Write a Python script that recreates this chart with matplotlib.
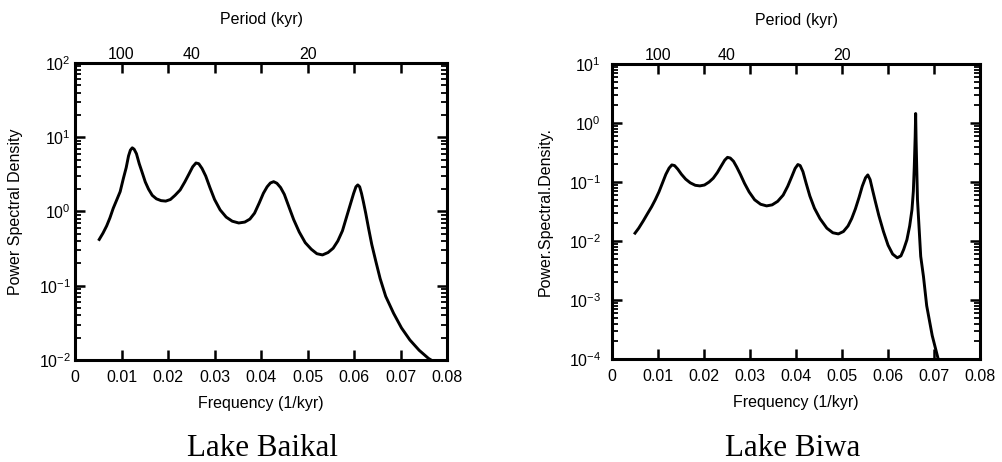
import numpy as np
import matplotlib.pyplot as plt

# === data ===
baikal_freq = [0.0052, 0.0060, 0.0068, 0.0075, 0.0082, 0.0090, 0.0097, 0.0104, 0.0110, 0.0115,
               0.0119, 0.0123, 0.0127, 0.0132, 0.0138, 0.0144, 0.0151, 0.0158, 0.0166, 0.0175,
               0.0185, 0.0195, 0.0205, 0.0215, 0.0226, 0.0236, 0.0245, 0.0253, 0.0260, 0.0266,
               0.0273, 0.0281, 0.0290, 0.0300, 0.0312, 0.0325, 0.0338, 0.0352, 0.0365, 0.0376,
               0.0386, 0.0396, 0.0405, 0.0413, 0.0420, 0.0427, 0.0434, 0.0442, 0.0450, 0.0460,
               0.0470, 0.0482, 0.0495, 0.0508, 0.0520, 0.0532, 0.0544, 0.0555, 0.0565, 0.0575,
               0.0584, 0.0592, 0.0599, 0.0604, 0.0608, 0.0612, 0.0616, 0.0620, 0.0625, 0.0631,
               0.0638, 0.0647, 0.0656, 0.0668, 0.0685, 0.0702, 0.0720, 0.0740, 0.0760, 0.0775]
baikal_psd = [0.42, 0.51, 0.64, 0.82, 1.10, 1.45, 1.85, 2.8, 3.9, 5.6,
              6.7, 7.2, 6.9, 6.0, 4.4, 3.4, 2.5, 2.0, 1.65, 1.48,
              1.40, 1.38, 1.45, 1.65, 1.95, 2.5, 3.2, 4.0, 4.5, 4.4,
              3.8, 3.0, 2.1, 1.45, 1.05, 0.84, 0.74, 0.70, 0.72, 0.79,
              0.95, 1.3, 1.76, 2.15, 2.42, 2.52, 2.4, 2.1, 1.7, 1.15,
              0.78, 0.53, 0.38, 0.31, 0.27, 0.26, 0.28, 0.32, 0.40, 0.55,
              0.85, 1.25, 1.75, 2.15, 2.28, 2.15, 1.75, 1.35, 0.95, 0.6,
              0.36, 0.21, 0.125, 0.072, 0.0425, 0.027, 0.0186, 0.0135, 0.0105, 0.0092]

biwa_freq = [0.0050, 0.0058, 0.0068, 0.0077, 0.0086, 0.0094, 0.0102, 0.0110, 0.0117, 0.0124,
             0.0130, 0.0136, 0.0143, 0.0151, 0.0160, 0.0170, 0.0181, 0.0191, 0.0201, 0.0211,
             0.0220, 0.0229, 0.0237, 0.0245, 0.0251, 0.0257, 0.0264, 0.0271, 0.0279, 0.0288,
             0.0298, 0.0310, 0.0323, 0.0336, 0.0348, 0.0360, 0.0372, 0.0382, 0.0391, 0.0398,
             0.0404, 0.0409, 0.0415, 0.0422, 0.0430, 0.0440, 0.0452, 0.0467, 0.0480, 0.0492,
             0.0503, 0.0513, 0.0521, 0.0529, 0.0537, 0.0544, 0.0551, 0.0556, 0.0561, 0.0566,
             0.0572, 0.0580, 0.0590, 0.0600, 0.0610, 0.0620, 0.0628, 0.0634, 0.0641, 0.0647,
             0.0652, 0.0655, 0.0657, 0.0659, 0.0660, 0.0661, 0.0664, 0.0671, 0.0677, 0.0684,
             0.0696, 0.0709, 0.0713]
biwa_psd = [0.0136, 0.0165, 0.022, 0.029, 0.038, 0.050, 0.068, 0.098, 0.135, 0.172,
            0.195, 0.190, 0.165, 0.135, 0.112, 0.097, 0.088, 0.086, 0.089, 0.100,
            0.116, 0.145, 0.185, 0.235, 0.262, 0.255, 0.225, 0.180, 0.135, 0.095,
            0.068, 0.050, 0.042, 0.0394, 0.041, 0.047, 0.060, 0.085, 0.125, 0.170,
            0.198, 0.190, 0.150, 0.095, 0.058, 0.036, 0.024, 0.0165, 0.0138, 0.0132,
            0.0145, 0.018, 0.024, 0.035, 0.055, 0.085, 0.118, 0.132, 0.11, 0.075,
            0.048, 0.027, 0.0145, 0.0085, 0.0060, 0.0052, 0.0056, 0.0072, 0.0105, 0.018,
            0.034, 0.07, 0.18, 0.6, 1.45, 0.5, 0.05, 0.0055, 0.0025, 0.0008,
            0.00025, 0.0001, 0.00008]

freq_ticks = [0, 0.01, 0.02, 0.03, 0.04, 0.05, 0.06, 0.07, 0.08]
freq_labels = ["0", "0.01", "0.02", "0.03", "0.04", "0.05", "0.06", "0.07", "0.08"]
period_ticks = [100, 40, 20]

plt.rcParams["font.family"] = ["Liberation Sans", "DejaVu Sans"]

fig = plt.figure(figsize=(10.02, 4.62), dpi=100)
ax1 = fig.add_axes([0.0749, 0.2208, 0.3713, 0.6429])
ax2 = fig.add_axes([0.6108, 0.2229, 0.3673, 0.6385])


def style(ax, freq, psd, ylim, ylabel, ypad, ylab_x):
    ax.plot(freq, psd, color="black", lw=2.1, solid_joinstyle="round")
    ax.set_yscale("log")
    ax.set_xlim(0, 0.08)
    ax.set_ylim(*ylim)
    ax.set_xticks(freq_ticks, labels=freq_labels)
    ax.tick_params(axis="both", which="major", direction="in", length=7, width=1.8,
                   labelsize=11.5, top=True, right=True)
    ax.tick_params(axis="x", which="major", pad=7)
    ax.tick_params(axis="y", which="major", pad=ypad)
    ax.tick_params(axis="y", which="minor", direction="in", length=4, width=1.3,
                   left=True, right=True)
    ax.tick_params(axis="x", which="minor", bottom=False, top=False)
    for s in ax.spines.values():
        s.set_linewidth(2.2)
    ax.set_xlabel("Frequency (1/kyr)", fontsize=11.5, labelpad=8)
    ax.set_ylabel(ylabel, fontsize=11.5)
    ax.yaxis.set_label_coords(ylab_x, 0.5)

    sec = ax.secondary_xaxis("top")
    sec.set_xticks([1 / p for p in period_ticks], labels=[str(p) for p in period_ticks])
    sec.tick_params(length=0, labelsize=11.5, pad=1)
    sec.spines["top"].set_visible(False)
    sec.set_xlabel("Period (kyr)", fontsize=11.5, labelpad=16)


style(ax1, baikal_freq, baikal_psd, (1e-2, 1e2), "Power Spectral Density", 3, -0.140)
style(ax2, biwa_freq, biwa_psd, (1e-4, 1e1), "Power.Spectral.Density.", 8, -0.160)

fig.text(262 / 1002, 1 - 449 / 462, "Lake Baikal", family="Liberation Serif",
         fontsize=22.3, ha="center", va="center")
fig.text(793 / 1002, 1 - 449 / 462, "Lake Biwa", family="Liberation Serif",
         fontsize=22.3, ha="center", va="center")

fig.savefig("out.png", dpi=100)
plt.close(fig)
